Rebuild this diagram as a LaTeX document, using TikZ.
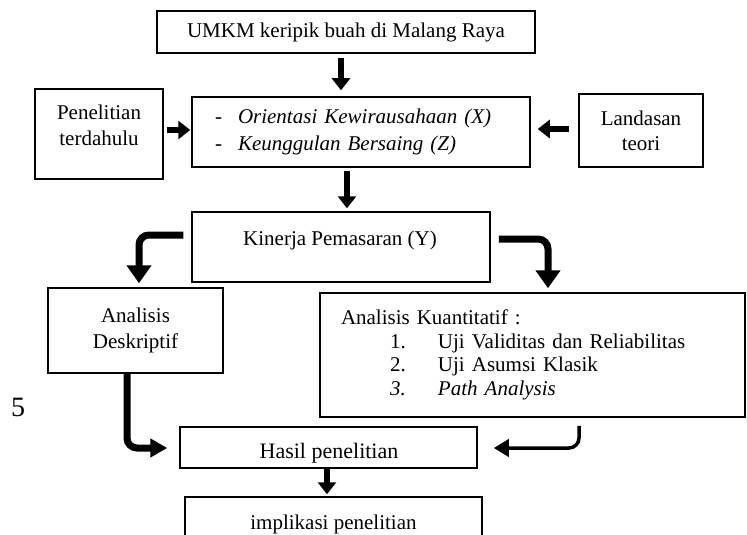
\documentclass[tikz,border=0pt]{standalone}
\usepackage{fontspec}
\setmainfont{Liberation Serif}
\usepackage{tikz}
\usetikzlibrary{arrows.meta,calc}

\tikzset{
  box/.style={draw, line width=1.5pt, inner sep=0pt},
  txt/.style={font=\fontsize{21}{26}\selectfont, align=center},
  fat/.style={line width=6pt, -{Triangle[width=18pt,length=12pt]}},
  bendarr/.style={line width=7pt, rounded corners=10pt, -{Triangle[width=24pt,length=18pt]}},
  slimarr/.style={line width=3.5pt, rounded corners=10pt, -{Triangle[width=17pt,length=15pt]}}
}

\begin{document}
\begin{tikzpicture}[x=1pt,y=-1pt]
\useasboundingbox (0,0) rectangle (747,535);
\clip (0,0) rectangle (747,535);

% boxes
\node[box, txt, minimum width=378pt, minimum height=42pt] (umkm) at (346,32) {UMKM keripik buah di Malang Raya};
\node[box, minimum width=128pt, minimum height=90pt] (pen) at (99,134) {};
\node[txt] (pentxt) at (99,125) {Penelitian\\terdahulu};
\node[box, txt, font=\fontsize{21}{27}\selectfont, align=left, text width=292pt, inner xsep=23pt,
  minimum width=338pt, minimum height=70pt] (mid) at (361,132)
  {\makebox[23pt][l]{-}\textit{Orientasi Kewirausahaan (X)}\\\makebox[23pt][l]{-}\textit{Keunggulan Bersaing (Z)}};
\node[box, txt, font=\fontsize{21}{25}\selectfont, minimum width=124pt, minimum height=73pt] (land) at (641,130.5) {Landasan\\teori};
\node[box, minimum width=298pt, minimum height=70pt] (kin) at (341,247) {};
\node[txt] (kintxt) at (340,240) {Kinerja Pemasaran (Y)};
\node[box, txt, minimum width=175pt, minimum height=85pt] (desk) at (135.5,330.5) {Analisis\\Deskriptif};
\node[box, txt, font=\fontsize{21}{23.7}\selectfont, align=left, text width=383pt, inner xsep=21pt,
  minimum width=425pt, minimum height=124pt] (kuan) at (532.5,355)
  {Analisis Kuantitatif :\\
   \hspace*{49pt}\makebox[48pt][l]{1.}Uji Validitas dan Reliabilitas\\
   \hspace*{49pt}\makebox[48pt][l]{2.}Uji Asumsi Klasik\\
   \hspace*{49pt}\makebox[48pt][l]{\textit{3.}}\textit{Path Analysis}};
\node[box, minimum width=297pt, minimum height=41pt] (hasil) at (328.5,447.5) {};
\node[txt, font=\fontsize{22}{26}\selectfont] (hasiltxt) at (329,453) {Hasil penelitian};
\node[box, minimum width=297pt, minimum height=60pt] (impl) at (333.5,527) {};
\node[txt] (impltxt) at (333.5,524) {implikasi penelitian};
\node[font=\fontsize{28}{30}\selectfont] (nomor) at (18,407) {5};

% arrows
\draw[fat] ($(umkm.south)+(-5,4)$) -- ($(mid.north)+(-20,-6)$);
\draw[fat] ($(pen.east)+(3,-4)$) -- ($(mid.west)+(-1,-2)$);
\draw[fat] ($(land.west)+(-9,-1.5)$) -- ($(mid.east)+(7,-3)$);
\draw[fat] ($(mid.south)+(-14,3)$) -- ($(kin.north)+(6,-3)$);
\draw[bendarr] ($(kin.west)+(-8,-12)$) -| ($(desk.north)+(3.5,-4)$);
\draw[bendarr] ($(kin.east)+(8,-8)$) -| ($(kuan.north)+(15.5,-4)$);
\draw[bendarr, -{Triangle[width=18pt,length=17pt]}] ($(desk.south)+(-8.5,0)$) |- ($(hasil.west)+(-12,0.5)$);
\draw[slimarr] ($(kuan.south)+(46.5,8)$) |- ($(hasil.east)+(16,0.5)$);
\draw[fat] ($(hasil.south)+(-1.5,-1)$) -- ($(impl.north)+(-6.5,-2)$);
\end{tikzpicture}
\end{document}
